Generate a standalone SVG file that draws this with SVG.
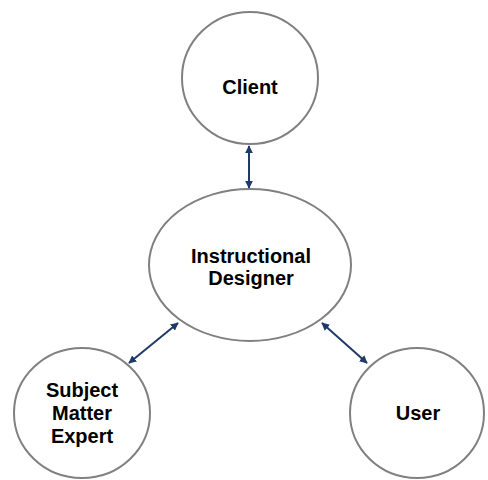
<svg xmlns="http://www.w3.org/2000/svg" width="488" height="480" viewBox="0 0 488 480">
  <defs>
    <marker id="arrow" viewBox="0 0 10 10" refX="9" refY="5" markerWidth="4" markerHeight="4" orient="auto-start-reverse" markerUnits="strokeWidth">
      <path d="M0,0 L10,5 L0,10 Z" fill="#1f3a68"/>
    </marker>
  </defs>
  <style>
    .node { fill: #ffffff; stroke: #808080; stroke-width: 2; }
    .label { font-family: "Liberation Sans", Arial, sans-serif; font-weight: bold; font-size: 20px; fill: #000000; text-anchor: middle; }
    .link { stroke: #1f3a68; stroke-width: 2; fill: none; marker-start: url(#arrow); marker-end: url(#arrow); }
  </style>
  <rect width="488" height="480" fill="#ffffff"/>

  <g id="connectors">
    <line class="link" x1="249" y1="146" x2="249" y2="188"/>
    <line class="link" x1="178" y1="323" x2="129" y2="363"/>
    <line class="link" x1="322" y1="323" x2="367" y2="363"/>
  </g>

  <g id="client">
    <ellipse class="node" cx="250" cy="78" rx="68" ry="66"/>
    <text class="label" x="250" y="94">Client</text>
  </g>

  <g id="instructional-designer">
    <ellipse class="node" cx="250" cy="265" rx="101" ry="76"/>
    <text class="label" x="251" y="263">Instructional</text>
    <text class="label" x="251" y="285">Designer</text>
  </g>

  <g id="subject-matter-expert">
    <ellipse class="node" cx="82" cy="413" rx="68" ry="65"/>
    <text class="label" x="82" y="397">Subject</text>
    <text class="label" x="82" y="420">Matter</text>
    <text class="label" x="82" y="443">Expert</text>
  </g>

  <g id="user">
    <ellipse class="node" cx="417" cy="413" rx="67" ry="65"/>
    <text class="label" x="418" y="420">User</text>
  </g>
</svg>
